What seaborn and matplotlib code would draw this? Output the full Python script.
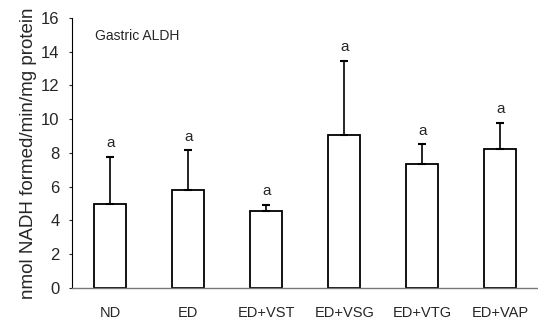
#!/usr/bin/env python3

import numpy as np
import pandas as pd
import seaborn as sns
import matplotlib.pyplot as plt

groups = ["ND", "ED", "ED+VST", "ED+VSG", "ED+VTG", "ED+VAP"]
means = [4.95, 5.8, 4.55, 9.05, 7.35, 8.25]
upper = [7.75, 8.15, 4.9, 13.45, 8.5, 9.8]
letters = ["a", "a", "a", "a", "a", "a"]

sns.set_style("white")
plt.rcParams["font.family"] = ["Liberation Sans", "DejaVu Sans"]

df = pd.DataFrame({"group": groups, "value": means})

fig = plt.figure(figsize=(5.38, 3.25), dpi=100)
ax = fig.add_axes([0.134, 0.114, 0.864, 0.831])

sns.barplot(data=df, x="group", y="value", ax=ax, color="white",
            edgecolor="black", linewidth=1.3, width=0.41, errorbar=None)

err = np.array(upper) - np.array(means)
ax.errorbar(np.arange(len(groups)), means, yerr=[np.zeros(len(err)), err],
            fmt="none", ecolor="black", elinewidth=1.2, capsize=3, capthick=1.5)

for i, (top, lab) in enumerate(zip(upper, letters)):
    ax.text(i, top + 0.4, lab, ha="center", va="bottom", fontsize=11)

ax.text(0.05, 0.96, "Gastric ALDH", transform=ax.transAxes, fontsize=10,
        ha="left", va="top")

ax.set_xlim(-0.49, 5.47)
ax.set_ylim(0, 16)
ax.set_yticks(range(0, 17, 2))
ax.tick_params(axis="y", labelsize=12, length=2, width=0.8, left=True, pad=7)
ax.tick_params(axis="x", labelsize=10.5, length=0, pad=13)
ax.set_xlabel("")
ax.set_ylabel("nmol NADH formed/min/mg protein", fontsize=13.5, labelpad=3)

for side in ["top", "right"]:
    ax.spines[side].set_visible(False)
ax.spines["left"].set_color("black")
ax.spines["left"].set_linewidth(0.8)
ax.spines["bottom"].set_color("#777777")
ax.spines["bottom"].set_linestyle((0, (1, 1)))
ax.spines["bottom"].set_linewidth(1.0)

fig.savefig("out.png", dpi=100)
